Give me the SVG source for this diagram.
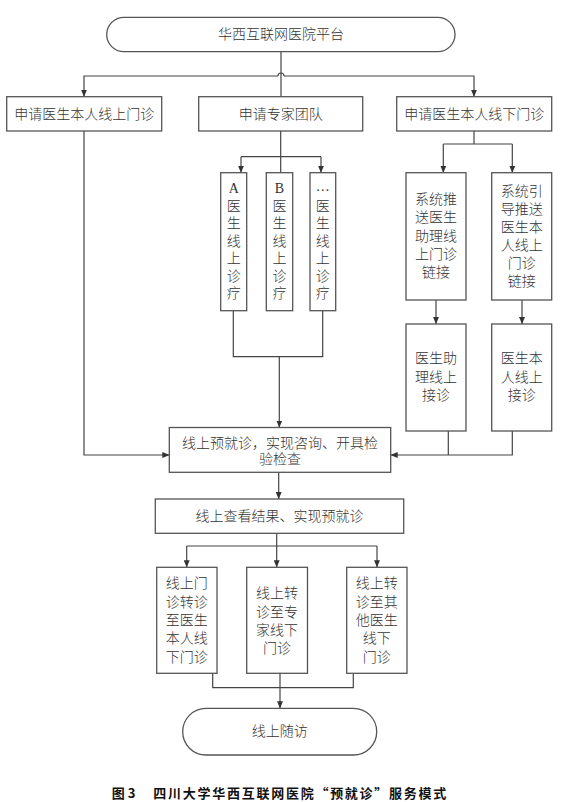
<svg xmlns="http://www.w3.org/2000/svg" width="563" height="802" viewBox="0 0 563 802">
<defs>
<marker id="arr" markerUnits="userSpaceOnUse" markerWidth="7" markerHeight="6" refX="7" refY="3" orient="auto">
<path d="M0,0 L7,3 L0,6 z" fill="#333"/>
</marker>
<style>
.box{fill:#fff;stroke:#555;stroke-width:1.3}
.ln{fill:none;stroke:#444;stroke-width:1.2}
.ar{fill:none;stroke:#444;stroke-width:1.2;marker-end:url(#arr)}
text{font-family:"Liberation Serif","Noto Sans CJK SC",serif;font-size:14px;fill:#333;text-anchor:middle;dominant-baseline:central;font-weight:300}
.cap{font-family:"Noto Sans CJK SC","Liberation Sans",sans-serif;font-size:13px;font-weight:bold;fill:#111;text-anchor:start}
</style>
</defs>
<rect width="563" height="802" fill="#fff"/>

<g id="connectors">
<path class="ln" d="M281,51.7 V96.7"/>
<path class="ar" d="M278,76 H84 V96.7"/>
<path class="ar" d="M284,76 H474 V96.7"/>
<path class="ln" d="M278,76 a3,3 0 0 1 6,0"/>
<path class="ar" d="M84,131 V455 H169.3"/>
<path class="ln" d="M280.7,131 V172.7"/>
<path class="ln" d="M241,156.7 H321"/>
<path class="ar" d="M241,156.7 V172.7"/>
<path class="ar" d="M321,156.7 V172.7"/>
<path class="ln" d="M233.3,310.7 V356.7 H322.7 V310.7"/>
<path class="ar" d="M279.3,356.7 V427.5"/>
<path class="ln" d="M474,131 V144"/>
<path class="ln" d="M443.3,144 H512.3"/>
<path class="ar" d="M443.3,144 V172.7"/>
<path class="ar" d="M512.3,144 V172.7"/>
<path class="ar" d="M436,300 V324"/>
<path class="ar" d="M522,300 V324"/>
<path class="ln" d="M448.3,431 V455"/>
<path class="ar" d="M512.3,431 V455 H390.7"/>
<path class="ar" d="M278.7,472.3 V499"/>
<path class="ar" d="M276.7,533.3 V567.3"/>
<path class="ln" d="M186.7,546 H377"/>
<path class="ar" d="M186.7,546 V567.3"/>
<path class="ar" d="M377,546 V567.3"/>
<path class="ln" d="M212.7,673.3 V687.7 H353.3 V673.3"/>
<path class="ar" d="M280,673.3 V708.3"/>
</g>

<g id="n-top">
<rect class="box" x="106.7" y="17.3" width="348.3" height="34.4" rx="17.2"/>
<text x="281" y="34.5">华西互联网医院平台</text>
</g>
<g id="n-online">
<rect class="box" x="6.7" y="96.7" width="155" height="34.3"/>
<text x="84.2" y="114">申请医生本人线上门诊</text>
</g>
<g id="n-team">
<rect class="box" x="198.7" y="96.7" width="164" height="34.3"/>
<text x="280.7" y="114">申请专家团队</text>
</g>
<g id="n-offline">
<rect class="box" x="396.7" y="96.7" width="155" height="34.3"/>
<text x="474.2" y="114">申请医生本人线下门诊</text>
</g>

<g id="n-a">
<rect class="box" x="220.7" y="172.7" width="26" height="138"/>
<text x="233.7"><tspan x="233.7" y="188.3">A</tspan><tspan x="233.7" y="205.8">医</tspan><tspan x="233.7" y="223.3">生</tspan><tspan x="233.7" y="240.8">线</tspan><tspan x="233.7" y="258.3">上</tspan><tspan x="233.7" y="275.8">诊</tspan><tspan x="233.7" y="293.3">疗</tspan></text>
</g>
<g id="n-b">
<rect class="box" x="266.3" y="172.7" width="26.4" height="138"/>
<text x="279.5"><tspan x="279.5" y="188.3">B</tspan><tspan x="279.5" y="205.8">医</tspan><tspan x="279.5" y="223.3">生</tspan><tspan x="279.5" y="240.8">线</tspan><tspan x="279.5" y="258.3">上</tspan><tspan x="279.5" y="275.8">诊</tspan><tspan x="279.5" y="293.3">疗</tspan></text>
</g>
<g id="n-c">
<rect class="box" x="310" y="172.7" width="25.7" height="138"/>
<text x="322.8"><tspan x="322.8" y="186">…</tspan><tspan x="322.8" y="205.8">医</tspan><tspan x="322.8" y="223.3">生</tspan><tspan x="322.8" y="240.8">线</tspan><tspan x="322.8" y="258.3">上</tspan><tspan x="322.8" y="275.8">诊</tspan><tspan x="322.8" y="293.3">疗</tspan></text>
</g>

<g id="n-d">
<rect class="box" x="406" y="172.7" width="60" height="127.3"/>
<text x="436"><tspan x="436" y="199.3">系统推</tspan><tspan x="436" y="217.4">送医生</tspan><tspan x="436" y="235.5">助理线</tspan><tspan x="436" y="253.6">上门诊</tspan><tspan x="436" y="271.7">链接</tspan></text>
</g>
<g id="n-e">
<rect class="box" x="491.7" y="172.7" width="60" height="127.3"/>
<text x="521.7"><tspan x="521.7" y="190.7">系统引</tspan><tspan x="521.7" y="208.7">导推送</tspan><tspan x="521.7" y="226.7">医生本</tspan><tspan x="521.7" y="244.7">人线上</tspan><tspan x="521.7" y="262.7">门诊</tspan><tspan x="521.7" y="280.7">链接</tspan></text>
</g>
<g id="n-f">
<rect class="box" x="406" y="324" width="60" height="107"/>
<text x="436"><tspan x="436" y="358.3">医生助</tspan><tspan x="436" y="376.7">理线上</tspan><tspan x="436" y="395">接诊</tspan></text>
</g>
<g id="n-g">
<rect class="box" x="491.7" y="324" width="60" height="107"/>
<text x="521.7"><tspan x="521.7" y="358.3">医生本</tspan><tspan x="521.7" y="376.7">人线上</tspan><tspan x="521.7" y="395">接诊</tspan></text>
</g>

<g id="n-h">
<rect class="box" x="169.3" y="427.5" width="221.4" height="44.8"/>
<text x="280"><tspan x="280" y="442.7">线上预就诊，实现咨询、开具检</tspan><tspan x="280" y="459.3">验检查</tspan></text>
</g>
<g id="n-i">
<rect class="box" x="155.3" y="499" width="248.4" height="34.3"/>
<text x="279.5" y="516.5">线上查看结果、实现预就诊</text>
</g>

<g id="n-j">
<rect class="box" x="156.7" y="567.3" width="60.3" height="106"/>
<text x="186.8"><tspan x="186.8" y="583.3">线上门</tspan><tspan x="186.8" y="601.7">诊转诊</tspan><tspan x="186.8" y="620">至医生</tspan><tspan x="186.8" y="638.3">本人线</tspan><tspan x="186.8" y="656.7">下门诊</tspan></text>
</g>
<g id="n-k">
<rect class="box" x="246.7" y="567.3" width="60.8" height="106"/>
<text x="277.1"><tspan x="277.1" y="593.4">线上转</tspan><tspan x="277.1" y="611.7">诊至专</tspan><tspan x="277.1" y="630">家线下</tspan><tspan x="277.1" y="648.3">门诊</tspan></text>
</g>
<g id="n-l">
<rect class="box" x="346.7" y="567.3" width="60.3" height="106"/>
<text x="376.8"><tspan x="376.8" y="583.3">线上转</tspan><tspan x="376.8" y="601.7">诊至其</tspan><tspan x="376.8" y="620">他医生</tspan><tspan x="376.8" y="638.3">线下</tspan><tspan x="376.8" y="656.7">门诊</tspan></text>
</g>

<g id="n-end">
<rect class="box" x="182.7" y="708.3" width="194" height="46.7" rx="23.3"/>
<text x="279.7" y="731.7">线上随访</text>
</g>

<g id="caption">
<text class="cap" x="111.7" y="792.3">图 3</text>
<text class="cap" x="153.3" y="792.3" textLength="293" lengthAdjust="spacing">四川大学华西互联网医院“预就诊”服务模式</text>
</g>
</svg>
